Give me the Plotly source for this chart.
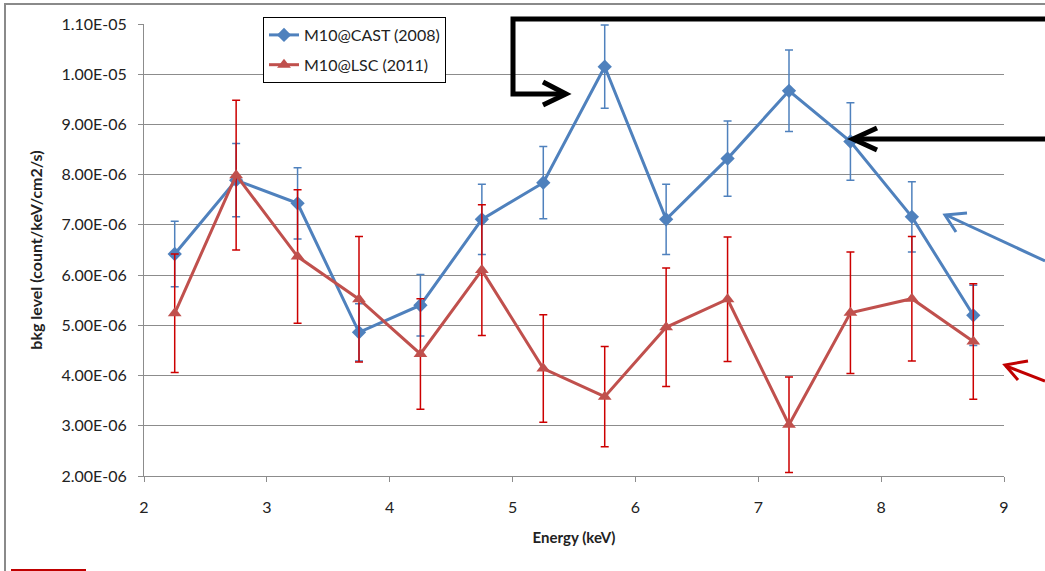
import plotly.graph_objects as go

# ---- data (values in units of 1e-6 count/keV/cm2/s) ----
energy = [2.25, 2.75, 3.25, 3.75, 4.25, 4.75, 5.25, 5.75, 6.25, 6.75, 7.25, 7.75, 8.25, 8.75]
cast_2008 = [6.42, 7.89, 7.43, 4.86, 5.40, 7.11, 7.84, 10.15, 7.11, 8.32, 9.67, 8.66, 7.16, 5.20]
cast_2008_err = [0.65, 0.73, 0.71, 0.57, 0.61, 0.70, 0.72, 0.83, 0.70, 0.75, 0.81, 0.77, 0.70, 0.60]
lsc_2011 = [5.24, 7.99, 6.37, 5.52, 4.43, 6.10, 4.14, 3.58, 4.96, 5.52, 3.02, 5.25, 5.53, 4.68]
lsc_2011_err = [1.18, 1.49, 1.33, 1.25, 1.10, 1.30, 1.07, 1.00, 1.18, 1.24, 0.95, 1.21, 1.24, 1.15]
scale = 1e-6

y_tickvals = [2, 3, 4, 5, 6, 7, 8, 9, 10, 11]
y_ticktext = ["2.00E-06", "3.00E-06", "4.00E-06", "5.00E-06", "6.00E-06",
              "7.00E-06", "8.00E-06", "9.00E-06", "1.00E-05", "1.10E-05"]
x_tickvals = [2, 3, 4, 5, 6, 7, 8, 9]

BLUE = "#4F81BD"
RED = "#C0504D"
RED_ERR = "#CC0000"
FONT = "Lato"

fig = go.Figure()
fig.add_trace(go.Scatter(
    x=energy, y=[v * scale for v in cast_2008],
    error_y=dict(type="data", array=[e * scale for e in cast_2008_err],
                 color=BLUE, thickness=1.5, width=4),
    mode="lines+markers", name="M10@CAST (2008)",
    line=dict(color=BLUE, width=3),
    marker=dict(symbol="diamond", size=11, color=BLUE),
    legendgroup="a",
))
fig.add_trace(go.Scatter(
    x=energy, y=[v * scale for v in lsc_2011],
    error_y=dict(type="data", array=[e * scale for e in lsc_2011_err],
                 color=RED_ERR, thickness=1.5, width=4),
    mode="lines+markers", name="M10@LSC (2011)",
    line=dict(color=RED, width=3),
    marker=dict(symbol="triangle-up", size=12, color=RED),
    legendgroup="b",
))

L, R, T, B = 144, 41, 24, 95
W, H = 1045, 571
PW, PH = W - L - R, H - T - B


def px(x):
    return (x - L) / PW


def py(y):
    return (H - B - y) / PH


def path(points):
    return "M " + " L ".join(f"{px(a)},{py(b)}" for a, b in points)


shapes = []
# outer chart frame
shapes.append(dict(type="path", xref="paper", yref="paper",
                   path=path([(5, 571), (5, 4), (1045, 4)]),
                   line=dict(color="#8a8a8a", width=2)))
# black elbow arrow
shapes.append(dict(type="path", xref="paper", yref="paper",
                   path=path([(1045, 19), (513, 19), (513, 94), (564, 94)]),
                   line=dict(color="black", width=5)))
shapes.append(dict(type="path", xref="paper", yref="paper",
                   path=path([(543, 82), (566, 94), (543, 105)]),
                   line=dict(color="black", width=5)))
# black straight arrow
shapes.append(dict(type="path", xref="paper", yref="paper",
                   path=path([(1045, 139), (854, 139)]),
                   line=dict(color="black", width=5)))
shapes.append(dict(type="path", xref="paper", yref="paper",
                   path=path([(877, 128), (853, 139), (877, 150)]),
                   line=dict(color="black", width=5)))
# blue arrow
shapes.append(dict(type="path", xref="paper", yref="paper",
                   path=path([(1045, 261), (946, 215)]),
                   line=dict(color=BLUE, width=3)))
shapes.append(dict(type="path", xref="paper", yref="paper",
                   path=path([(967, 213), (945, 215), (956, 232)]),
                   line=dict(color=BLUE, width=3)))
# red arrow
shapes.append(dict(type="path", xref="paper", yref="paper",
                   path=path([(1045, 381), (1006, 366)]),
                   line=dict(color="#C00000", width=3)))
shapes.append(dict(type="path", xref="paper", yref="paper",
                   path=path([(1028, 361), (1005, 365), (1018, 380)]),
                   line=dict(color="#C00000", width=3)))
# small red line bottom-left
shapes.append(dict(type="path", xref="paper", yref="paper",
                   path=path([(11, 570), (86, 570)]),
                   line=dict(color="#C00000", width=2)))

fig.update_layout(
    width=W, height=H,
    margin=dict(l=L, r=R, t=T, b=B),
    paper_bgcolor="white", plot_bgcolor="white",
    font=dict(family=FONT, size=13, color="#222222"),
    showlegend=True,
    legend=dict(x=px(263), y=py(17), xanchor="left", yanchor="top",
                bordercolor="black", borderwidth=1, bgcolor="white",
                font=dict(family=FONT, size=16, color="#222222"),
                tracegroupgap=6, itemwidth=30),
    xaxis=dict(range=[2, 9], tickvals=x_tickvals, showgrid=False,
               showline=True, linecolor="#8c8c8c", linewidth=1,
               ticks="outside", ticklen=5, tickcolor="#8c8c8c",
               ticklabelstandoff=12,
               zeroline=False, tickfont=dict(size=16),
               title=dict(text="<b>Energy (keV)</b>", font=dict(size=15), standoff=17)),
    yaxis=dict(range=[2 * scale, 11 * scale],
               tickvals=[v * scale for v in y_tickvals], ticktext=y_ticktext,
               showgrid=True, gridcolor="#8c8c8c", gridwidth=1,
               showline=True, linecolor="#8c8c8c", linewidth=1,
               ticks="outside", ticklen=5, tickcolor="#8c8c8c",
               ticklabelstandoff=8,
               zeroline=False, tickfont=dict(size=16),
               title=dict(text="<b>bkg level (count/keV/cm2/s)</b>", font=dict(size=16), standoff=14)),
    shapes=shapes,
)

fig.write_html("out.html", config={"displayModeBar": False},
               post_script="document.body.style.margin='0';document.body.style.overflow='hidden';")
